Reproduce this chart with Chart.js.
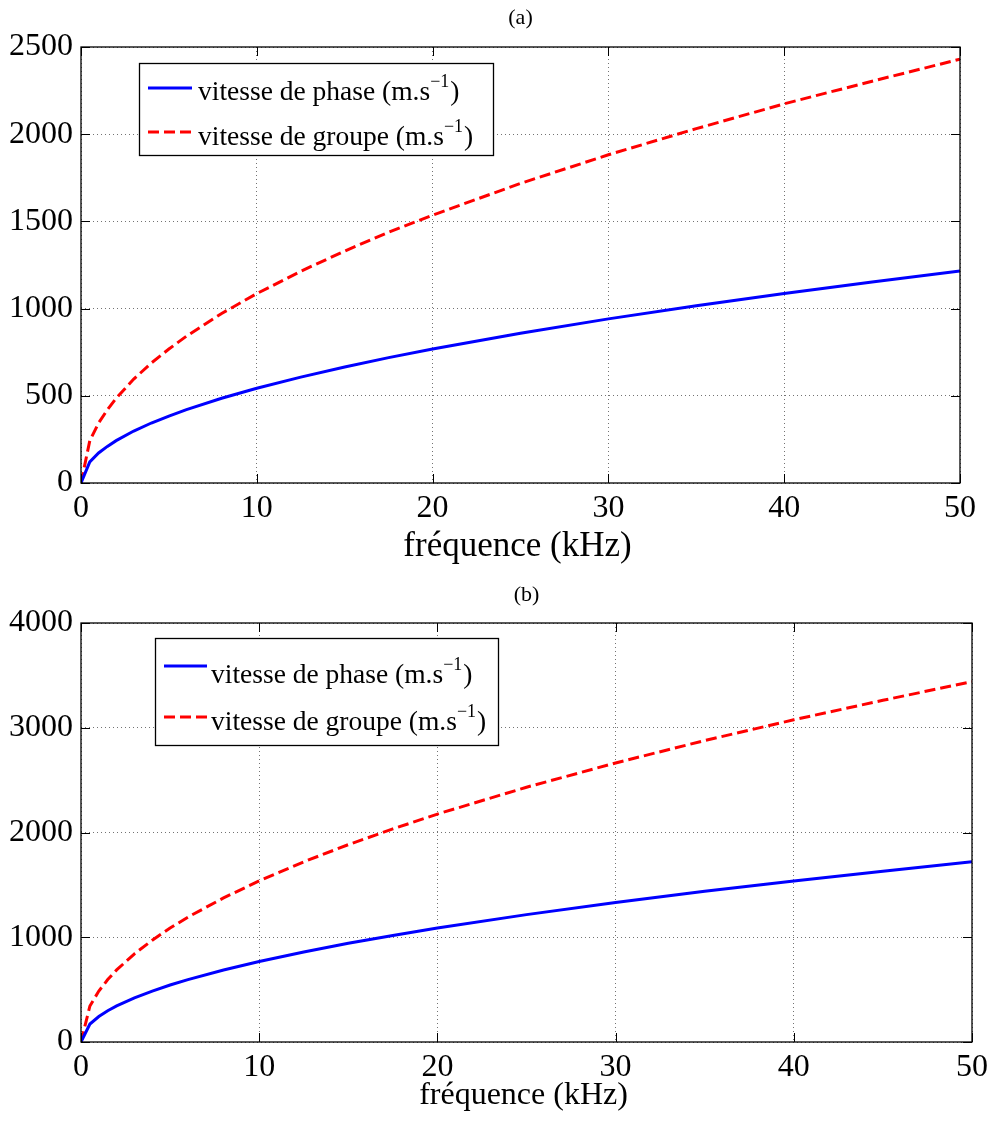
<!DOCTYPE html>
<html>
<head>
<meta charset="utf-8">
<script src="https://cdn.jsdelivr.net/npm/chart.js@4.4.1/dist/chart.umd.min.js"></script>
<style>
  html, body { margin: 0; padding: 0; background: #fff; }
  body { width: 994px; height: 1122px; position: relative; overflow: hidden; font-family: "Liberation Serif"; }
  .wrap { position: absolute; left: 0; width: 994px; }
  .pre { position: absolute; left: -1000px; top: 0; font-family: "Liberation Serif"; }
</style>
</head>
<body>
<span class="pre">fréquence 0123456789</span>
<div class="wrap" style="top:0;height:575px"><canvas id="cA" width="994" height="575"></canvas></div>
<div class="wrap" style="top:575px;height:547px"><canvas id="cB" width="994" height="547"></canvas></div>
<script>
// ---- data (kHz, m/s) ----
const freq   = [0, 0.5, 1, 1.5, 2, 3, 4, 5, 6, 8, 10, 12.5, 15, 17.5, 20, 25, 30, 35, 40, 45, 50];
const phaseA = [0, 121, 172, 210, 243, 298, 344, 384, 421, 486, 543, 607, 665, 719, 768, 859, 941, 1016, 1087, 1152, 1215];
const groupA = [0, 242, 344, 420, 486, 596, 688, 768, 842, 972, 1086, 1214, 1330, 1438, 1536, 1718, 1882, 2032, 2174, 2304, 2430];
const phaseB = [0, 172, 243, 298, 344, 421, 486, 544, 596, 688, 769, 860, 942, 1017, 1088, 1216, 1332, 1439, 1538, 1631, 1720];
const groupB = [0, 344, 486, 596, 688, 842, 972, 1088, 1192, 1376, 1538, 1720, 1884, 2034, 2176, 2432, 2664, 2878, 3076, 3262, 3440];
const xTicks  = [0, 10, 20, 30, 40, 50];
const yTicksA = [0, 500, 1000, 1500, 2000, 2500];
const yTicksB = [0, 1000, 2000, 3000, 4000];
const titleA = '(a)', titleB = '(b)';
const xLabel = 'fréquence (kHz)';
const legPhase = 'vitesse de phase (m.s';
const legGroup = 'vitesse de groupe (m.s';
const legSup = '\u22121';

const FONT = '"Liberation Serif", "Times New Roman", serif';

function pts(xs, ys) { return xs.map((x, i) => ({ x: x, y: ys[i] })); }

function framePlugin(cfg) {
  return {
    id: 'frame' + cfg.key,
    afterDraw(chart) {
      const ctx = chart.ctx;
      const a = chart.chartArea;
      const xs = chart.scales.x, ys = chart.scales.y;
      ctx.save();
      ctx.strokeStyle = '#000';
      ctx.lineWidth = 1.3;
      ctx.setLineDash([]);
      ctx.strokeRect(a.left, a.top, a.right - a.left, a.bottom - a.top);
      const tl = 9;
      ctx.lineWidth = 1;
      ctx.beginPath();
      cfg.xt.forEach(v => {
        const px = Math.round(xs.getPixelForValue(v)) + 0.5;
        ctx.moveTo(px, a.bottom); ctx.lineTo(px, a.bottom - tl);
        ctx.moveTo(px, a.top); ctx.lineTo(px, a.top + tl);
      });
      cfg.yt.forEach(v => {
        const py = Math.round(ys.getPixelForValue(v)) + 0.5;
        ctx.moveTo(a.left, py); ctx.lineTo(a.left + tl, py);
        ctx.moveTo(a.right, py); ctx.lineTo(a.right - tl, py);
      });
      ctx.stroke();
      ctx.fillStyle = '#000';
      ctx.textAlign = 'center';
      ctx.textBaseline = 'alphabetic';
      ctx.font = cfg.titleSize + 'px ' + FONT;
      const cx = (a.left + a.right) / 2;
      ctx.fillText(cfg.title, cx, cfg.titleY);
      ctx.font = cfg.xlabSize + 'px ' + FONT;
      ctx.fillText(xLabel, cx - 3, cfg.xlabY);
      const L = cfg.leg;
      ctx.fillStyle = '#fff';
      ctx.fillRect(L.x0, L.y0, L.x1 - L.x0, L.y1 - L.y0);
      ctx.strokeStyle = '#000';
      ctx.lineWidth = 1.3;
      ctx.strokeRect(L.x0 + 0.5, L.y0 + 0.5, L.x1 - L.x0, L.y1 - L.y0);
      const rows = [
        { text: legPhase, color: '#0000ff', dash: [], ly: L.r1, by: L.b1 },
        { text: legGroup, color: '#ff0000', dash: [11, 5], ly: L.r2, by: L.b2 }
      ];
      rows.forEach(r => {
        ctx.strokeStyle = r.color;
        ctx.lineWidth = 3;
        ctx.setLineDash(r.dash);
        ctx.beginPath();
        ctx.moveTo(L.lx0, r.ly); ctx.lineTo(L.lx1, r.ly);
        ctx.stroke();
        ctx.setLineDash([]);
        ctx.fillStyle = '#000';
        ctx.textAlign = 'left';
        ctx.font = L.fs + 'px ' + FONT;
        ctx.fillText(r.text, L.tx, r.by);
        let w = ctx.measureText(r.text).width;
        ctx.font = L.ss + 'px ' + FONT;
        ctx.fillText(legSup, L.tx + w, r.by - 13);
        const w2 = ctx.measureText(legSup).width;
        ctx.font = L.fs + 'px ' + FONT;
        ctx.fillText(')', L.tx + w + w2 + 1, r.by);
      });
      ctx.restore();
    }
  };
}

function makeChart(id, phase, group, yt, ymax, lay, cfg) {
  const gridCommon = { color: 'rgba(0,0,0,0.55)', lineWidth: 1, drawTicks: false };
  return new Chart(document.getElementById(id), {
    type: 'line',
    data: {
      datasets: [
        { label: 'phase', data: pts(freq, phase), borderColor: '#0000ff', borderWidth: 3,
          pointRadius: 0, tension: 0, fill: false },
        { label: 'groupe', data: pts(freq, group), borderColor: '#ff0000', borderWidth: 3,
          borderDash: [11, 5], pointRadius: 0, tension: 0, fill: false }
      ]
    },
    options: {
      responsive: false,
      animation: false,
      events: [],
      layout: { padding: { left: 0, top: lay.top, right: lay.right, bottom: 0 } },
      plugins: { legend: { display: false }, tooltip: { enabled: false }, title: { display: false } },
      scales: {
        x: {
          type: 'linear', min: 0, max: 50,
          afterBuildTicks: s => { s.ticks = xTicks.map(v => ({ value: v })); },
          afterFit: s => { s.height = lay.xh; },
          grid: gridCommon,
          border: { display: false, dash: [1, 3] },
          ticks: { color: '#000', font: { family: FONT, size: 32 }, padding: 6, maxRotation: 0,
                   callback: v => String(v) }
        },
        y: {
          type: 'linear', min: 0, max: ymax,
          afterBuildTicks: s => { s.ticks = yt.map(v => ({ value: v })); },
          afterFit: s => { s.width = 81; },
          grid: gridCommon,
          border: { display: false, dash: [1, 3] },
          ticks: { color: '#000', font: { family: FONT, size: 32 }, padding: 8,
                   callback: v => String(v) }
        }
      }
    },
    plugins: [cfg]
  });
}

function build() {
  makeChart('cA', phaseA, groupA, yTicksA, 2500, { top: 47, right: 34, xh: 575 - 483 }, framePlugin({
    key: 'A', xt: xTicks, yt: yTicksA, title: titleA, titleSize: 22, titleY: 24,
    xlabSize: 35, xlabY: 556,
    leg: { x0: 139, y0: 63, x1: 493, y1: 155, lx0: 148, lx1: 192, tx: 198,
           r1: 88, b1: 100, r2: 132, b2: 145, fs: 27.5, ss: 18 }
  }));
  makeChart('cB', phaseB, groupB, yTicksB, 4000, { top: 48, right: 20, xh: 547 - 467 }, framePlugin({
    key: 'B', xt: xTicks, yt: yTicksB, title: titleB, titleSize: 22, titleY: 26,
    xlabSize: 32, xlabY: 529,
    leg: { x0: 155, y0: 63, x1: 498, y1: 170, lx0: 164, lx1: 207, tx: 211,
           r1: 91, b1: 108, r2: 142, b2: 155, fs: 27.5, ss: 18 }
  }));
}

Promise.all([
  document.fonts.load('30px "Liberation Serif"'),
  document.fonts.load('18px "Liberation Serif"')
]).then(build, build);
</script>
</body>
</html>
